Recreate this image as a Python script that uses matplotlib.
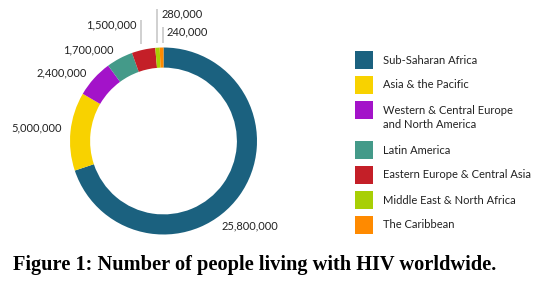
import matplotlib
matplotlib.use("Agg")
import matplotlib.pyplot as plt
from matplotlib.patches import Rectangle

regions = ["Sub-Saharan Africa", "Asia & the Pacific",
           "Western & Central Europe\nand North America", "Latin America",
           "Eastern Europe & Central Asia", "Middle East & North Africa",
           "The Caribbean"]
people = [25800000, 5000000, 2400000, 1700000, 1500000, 280000, 240000]
colors = ["#1B617F", "#F8D200", "#A313C9", "#449A89", "#C41F28", "#A8CF05", "#FF8A00"]
title = "Figure 1: Number of people living with HIV worldwide."

W, H = 555, 298
fig = plt.figure(figsize=(W / 100, H / 100), dpi=100)
ax = fig.add_axes([0, 0, 1, 1])

def Y(py):
    return H - py

cx, cy, R = 163.5, 141, 93.5
ax.pie(people, colors=colors, startangle=90, counterclock=False,
       center=(cx, Y(cy)), radius=R, frame=True,
       wedgeprops=dict(width=R * 0.215, linewidth=0))
ax.set_xlim(0, W)
ax.set_ylim(0, H)
ax.set_aspect("auto")
ax.axis("off")

lab_font = dict(family=["Lato", "DejaVu Sans"], fontsize=8, color="#222222")
labels = [f"{v:,}" for v in people]
label_pos = [(250, 226, "center"), (37, 128, "center"), (62, 73, "center"),
             (88, 50, "center"), (111, 25, "center"), (162, 14, "left"),
             (167, 32, "left")]
for txt, (px, py, ha) in zip(labels, label_pos):
    ax.text(px, Y(py), txt, ha=ha, va="center", **lab_font)

# leader lines for small slices
for (x, y0, y1) in [(141, 20, 44), (157, 9, 43), (163, 27, 43)]:
    ax.plot([x, x], [Y(y0), Y(y1)], color="#c8c8c8", lw=1.2, solid_capstyle="butt")

# legend
leg_y = [60, 84.7, 110, 150, 175, 200, 224.7]
for name, col, yc in zip(regions, colors, leg_y):
    ax.add_patch(Rectangle((355, Y(yc) - 9), 18, 18, facecolor=col, edgecolor="none"))
    for i, line in enumerate(name.split("\n")):
        ax.text(383, Y(yc + 15 * i), line, ha="left", va="center",
                family=["Lato", "DejaVu Sans"], fontsize=8, color="#222222")

t = ax.text(255, Y(265), title, ha="center", va="center",
            family=["Liberation Serif"], fontweight="bold", fontsize=14, color="black")
fig.canvas.draw()
r = fig.canvas.get_renderer()
w = t.get_window_extent(r).width
t.set_fontsize(14 * 484 / w)

fig.savefig("out.png", dpi=100)
